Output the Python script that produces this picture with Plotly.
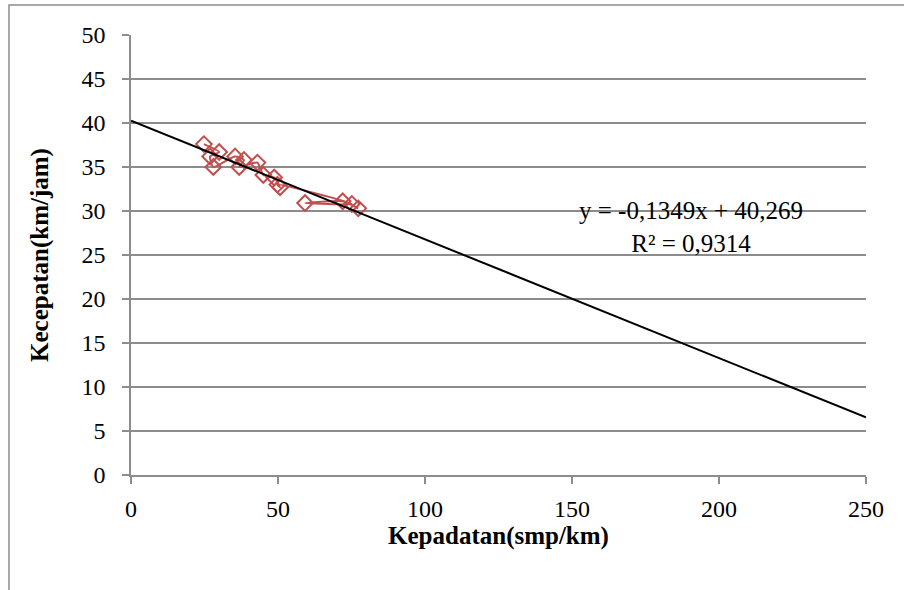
import plotly.graph_objects as go

# Observed density (smp/km) and speed (km/jam), in recording order
kepadatan = [24.8, 30.0, 26.9, 28.0, 35.4, 38.4, 36.8, 43.0, 45.0, 48.7,
             50.7, 49.8, 75.1, 59.2, 72.0, 77.3]
kecepatan = [37.6, 36.7, 36.2, 35.0, 36.2, 35.8, 35.0, 35.5, 34.1, 33.8,
             32.7, 33.0, 30.8, 30.9, 31.1, 30.3]

# Linear trend coefficients
slope = -0.1349
intercept = 40.269
r_squared = 0.9314

x_ticks = [0, 50, 100, 150, 200, 250]
y_ticks = [0, 5, 10, 15, 20, 25, 30, 35, 40, 45, 50]

trend_x = [x_ticks[0], x_ticks[-1]]
trend_y = [slope * v + intercept for v in trend_x]

GRID = "#8c8c8c"
RED = "#C0504D"
FONT = "Liberation Serif"

fig = go.Figure()

fig.add_trace(go.Scatter(
    x=kepadatan, y=kecepatan, mode="lines+markers",
    line=dict(color=RED, width=2, shape="spline", smoothing=0.6),
    marker=dict(symbol="diamond-open", size=12, color=RED,
                line=dict(color=RED, width=2)),
    showlegend=False,
))

fig.add_trace(go.Scatter(
    x=trend_x, y=trend_y, mode="lines",
    line=dict(color="black", width=2),
    showlegend=False,
))

def fmt(v, nd):
    return f"{v:.{nd}f}".replace(".", ",")

eq_text = f"y = {fmt(slope, 4)}x + {fmt(intercept, 3)}<br>R² = {fmt(r_squared, 4)}"
fig.add_annotation(
    x=190.5, y=28.2, xref="x", yref="y", text=eq_text, showarrow=False,
    font=dict(family=FONT, size=25, color="black"), align="center",
)

# Outer chart border
l, r, t, b = 131, 38, 35, 115
pw, ph = 904 - l - r, 590 - t - b
fig.add_shape(
    type="rect", xref="paper", yref="paper",
    x0=(9 - l) / pw, x1=(920 - l) / pw,
    y0=(475 - 610) / ph, y1=(475 - 5) / ph,
    line=dict(color=GRID, width=1.5), fillcolor="rgba(0,0,0,0)", layer="below",
)

fig.update_layout(
    width=904, height=590,
    margin=dict(l=l, r=r, t=t, b=b),
    paper_bgcolor="white", plot_bgcolor="white",
    font=dict(family=FONT, size=24, color="black"),
    xaxis=dict(
        range=[0, 250], tickvals=x_ticks, ticktext=[str(v) for v in x_ticks],
        showgrid=False, zeroline=False,
        showline=True, linecolor=GRID, linewidth=1.5,
        ticks="outside", ticklen=7, tickcolor=GRID, tickwidth=1.5,
        ticklabelstandoff=4,
        title=dict(text="<b>Kepadatan(smp/km)</b>", standoff=6,
                   font=dict(family=FONT, size=25)),
    ),
    yaxis=dict(
        range=[0, 50], tickvals=y_ticks, ticktext=[str(v) for v in y_ticks],
        showgrid=True, gridcolor=GRID, gridwidth=1.5, zeroline=False,
        showline=True, linecolor=GRID, linewidth=1.5,
        ticks="outside", ticklen=7, tickcolor=GRID, tickwidth=1.5,
        ticklabelstandoff=12,
        title=dict(text="<b>Kecepatan(km/jam)</b>", standoff=26,
                   font=dict(family=FONT, size=25)),
    ),
)

fig.write_html("out.html")
